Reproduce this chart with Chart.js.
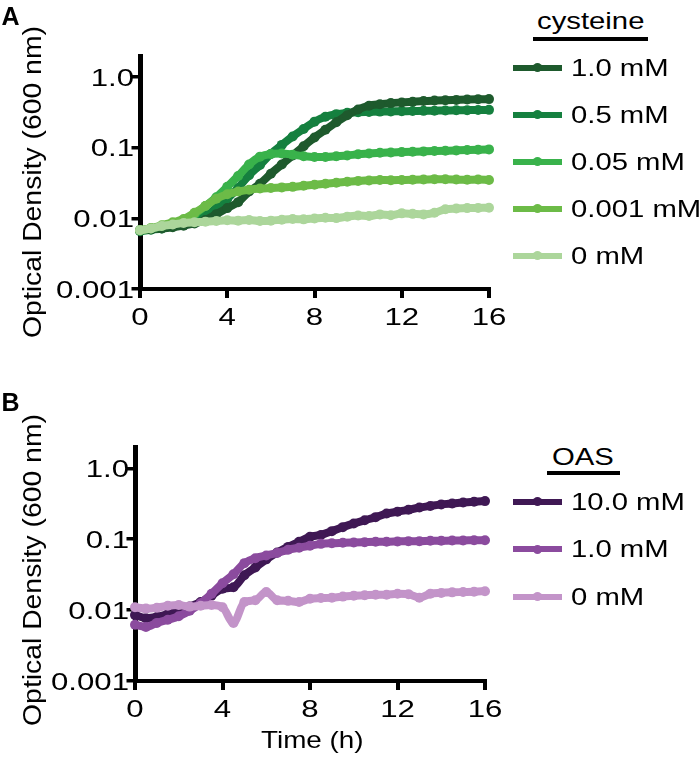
<!DOCTYPE html>
<html><head><meta charset="utf-8">
<script src="https://cdn.jsdelivr.net/npm/chart.js@4.4.0/dist/chart.umd.min.js"></script>
<style>
html,body{margin:0;padding:0;background:#fff;}
#wrap{position:relative;width:700px;height:763px;overflow:hidden;background:#fff;font-family:"Liberation Sans",Arial,sans-serif;color:#000;}
canvas{position:absolute;}
.t{position:absolute;white-space:nowrap;transform-origin:0 0;}
.rot{position:absolute;white-space:nowrap;}
.bar{position:absolute;background:#000;}
</style></head>
<body><div id="wrap">
<canvas id="cA" width="520" height="340" style="left:0;top:0;width:520px;height:340px"></canvas>
<canvas id="cB" width="520" height="340" style="left:0;top:391px;width:520px;height:340px"></canvas>
</div>
<script>
// ---------- data ----------
const timeH = [0,0.5,1,1.5,2,2.5,3,3.5,4,4.5,5,5.5,6,6.5,7,7.5,8,8.5,9,9.5,10,10.5,11,11.5,12,12.5,13,13.5,14,14.5,15,15.5,16];
const xTickValues = [0,4,8,12,16];
const xTickLabels = ['0','4','8','12','16'];
const yTickValues = [0.001,0.01,0.1,1];
const yTickLabels = ['0.001','0.01','0.1','1.0'];

// Panel A: cysteine
const cysteineLabels = ['1.0 mM','0.5 mM','0.05 mM','0.001 mM','0 mM'];
const cys_1_0 = [0.0068,0.007,0.0072,0.0075,0.0079,0.0085,0.0095,0.0115,0.014,0.017,0.024,0.031,0.043,0.058,0.078,0.105,0.14,0.18,0.23,0.29,0.35,0.395,0.415,0.43,0.44,0.45,0.46,0.467,0.473,0.478,0.483,0.487,0.49];
const cys_0_5 = [0.0066,0.0069,0.0072,0.0077,0.0084,0.0095,0.011,0.014,0.019,0.027,0.041,0.057,0.082,0.11,0.145,0.185,0.235,0.275,0.3,0.313,0.32,0.323,0.326,0.328,0.33,0.332,0.334,0.336,0.338,0.34,0.342,0.344,0.345];
const cys_0_05 = [0.0068,0.0072,0.0078,0.0085,0.0095,0.0115,0.015,0.02,0.028,0.04,0.058,0.075,0.082,0.083,0.08,0.076,0.074,0.074,0.076,0.078,0.081,0.083,0.085,0.086,0.087,0.088,0.089,0.09,0.091,0.092,0.093,0.094,0.095];
const cys_0_001 = [0.0068,0.0073,0.008,0.0088,0.0098,0.012,0.015,0.019,0.022,0.024,0.0255,0.0265,0.027,0.0275,0.028,0.029,0.03,0.031,0.032,0.033,0.034,0.0345,0.035,0.0348,0.035,0.0352,0.0355,0.036,0.0358,0.0355,0.0352,0.0355,0.035];
const cys_0 = [0.0068,0.0072,0.0078,0.0082,0.0086,0.0088,0.009,0.0092,0.0094,0.0093,0.0095,0.0092,0.0093,0.0096,0.0098,0.0097,0.01,0.0102,0.0101,0.0106,0.011,0.0108,0.0114,0.0111,0.0118,0.0116,0.0114,0.012,0.0135,0.0138,0.014,0.0141,0.0142];

// Panel B: OAS
const oasLabels = ['10.0 mM','1.0 mM','0 mM'];
const oas_10_0 = [0.0085,0.0077,0.008,0.0088,0.0098,0.0112,0.013,0.016,0.02,0.021,0.031,0.04,0.052,0.065,0.078,0.092,0.108,0.115,0.13,0.148,0.167,0.185,0.205,0.23,0.245,0.26,0.28,0.295,0.31,0.32,0.33,0.338,0.345];
const oas_1_0 = [0.0062,0.0058,0.0066,0.0073,0.0082,0.0098,0.0125,0.017,0.024,0.032,0.046,0.054,0.059,0.064,0.071,0.076,0.081,0.086,0.088,0.089,0.09,0.091,0.092,0.092,0.093,0.094,0.094,0.095,0.095,0.096,0.096,0.097,0.097];
const oas_0 = [0.011,0.0105,0.0108,0.0115,0.0118,0.0112,0.0115,0.0118,0.011,0.0066,0.013,0.0138,0.018,0.0138,0.0135,0.013,0.0145,0.0148,0.015,0.0155,0.016,0.0162,0.0165,0.0165,0.017,0.0168,0.015,0.017,0.0175,0.0178,0.018,0.0182,0.0185];

// ---------- styles ----------
const cysColors = ['#1e5a2d','#15803f','#39b24b','#6cbb47','#acd69b'];
const cysOrder = [3,4,2,1,0];
const oasColors = ['#3f1854','#8b4b9e','#c394c9'];
const oasOrder = [2,1,0];
const FONT = '"Liberation Sans", Arial, sans-serif';
const TICK_SX = 1.3;

const wrap = document.getElementById('wrap');

function addText(str, left, baseline, size, sx, bold) {
  const d = document.createElement('div');
  d.className = 't';
  d.textContent = str;
  d.style.fontSize = size + 'px';
  d.style.lineHeight = size + 'px';
  if (bold) d.style.fontWeight = 'bold';
  d.style.left = left + 'px';
  d.style.top = (baseline - size * 0.8465) + 'px';
  d.style.transform = 'scaleX(' + sx + ')';
  wrap.appendChild(d);
}
function addRotText(str, xc, yc, size, sx) {
  const d = document.createElement('div');
  d.className = 'rot';
  d.textContent = str;
  d.style.fontSize = size + 'px';
  d.style.lineHeight = size + 'px';
  d.style.left = xc + 'px';
  d.style.top = yc + 'px';
  d.style.transform = 'translate(-50%,-50%) rotate(-90deg) scaleX(' + sx + ')';
  wrap.appendChild(d);
}
function addBar(left, top, w, h, color) {
  const d = document.createElement('div');
  d.className = 'bar';
  d.style.left = left + 'px'; d.style.top = top + 'px';
  d.style.width = w + 'px'; d.style.height = h + 'px';
  if (color) d.style.background = color;
  wrap.appendChild(d);
}
function addDot(cx, cy, r, color) {
  const d = document.createElement('div');
  d.className = 'bar';
  d.style.left = (cx - r) + 'px'; d.style.top = (cy - r) + 'px';
  d.style.width = (2 * r) + 'px'; d.style.height = (2 * r) + 'px';
  d.style.borderRadius = '50%';
  d.style.background = color;
  wrap.appendChild(d);
}
function legend(title, titleLeft, titleBaseline, ulLeft, ulTop, ulW, ulH, labels, colors, y0, dy) {
  addText(title, titleLeft, titleBaseline, 24, 1.22, false);
  addBar(ulLeft, ulTop, ulW, ulH);
  labels.forEach((lab, i) => {
    const y = y0 + i * dy;
    addBar(513.3, y - 3, 48.4, 6, colors[i]);
    addDot(537.5, y, 4.6, colors[i]);
    addText(lab, 571, y + 8.6, 24, 1.22, false);
  });
}

const tickPlugin = {
  id: 'stretchTicks',
  afterDraw(chart) {
    const ctx = chart.ctx;
    const xs = chart.scales.x, ys = chart.scales.y;
    ctx.save();
    ctx.fillStyle = '#000';
    ctx.font = '24px ' + FONT;
    ctx.textBaseline = 'alphabetic';
    ctx.textAlign = 'right';
    yTickValues.forEach((v, i) => {
      const py = ys.getPixelForValue(v);
      ctx.save();
      ctx.translate(chart.chartArea.left - 6, py + 8.6);
      ctx.scale(TICK_SX, 1);
      ctx.fillText(yTickLabels[i], 0, 0);
      ctx.restore();
    });
    ctx.textAlign = 'center';
    xTickValues.forEach((v, i) => {
      const px = xs.getPixelForValue(v);
      ctx.save();
      ctx.translate(px, chart.chartArea.bottom + 35.5);
      ctx.scale(TICK_SX, 1);
      ctx.fillText(xTickLabels[i], 0, 0);
      ctx.restore();
    });
    ctx.restore();
  }
};

function makeChart(id, seriesList, labels, colors, orders, yWidth, xHeight, padRight) {
  const datasets = seriesList.map((vals, k) => ({
    label: labels[k],
    data: timeH.map((t, i) => ({ x: t, y: vals[i] })),
    borderColor: colors[k],
    backgroundColor: colors[k],
    pointBackgroundColor: colors[k],
    borderWidth: 8,
    pointRadius: 5,
    pointBorderWidth: 0,
    pointHoverRadius: 5,
    cubicInterpolationMode: 'monotone',
    clip: false,
    order: orders[k]
  }));
  return new Chart(document.getElementById(id), {
    type: 'line',
    data: { datasets },
    options: {
      responsive: false,
      animation: false,
      devicePixelRatio: 1,
      events: [],
      layout: { padding: { top: 56, right: padRight, bottom: 0, left: 0 } },
      plugins: { legend: { display: false }, tooltip: { enabled: false } },
      scales: {
        x: {
          type: 'linear', min: 0, max: 16,
          afterBuildTicks: s => { s.ticks = xTickValues.map(v => ({ value: v })); },
          afterFit: s => { s.height = xHeight; },
          ticks: { display: false },
          grid: { display: true, drawOnChartArea: false, drawTicks: true, tickLength: 9, tickWidth: 4, tickColor: '#000', color: '#000', lineWidth: 4 },
          border: { display: true, width: 4, color: '#000' }
        },
        y: {
          type: 'logarithmic', min: 0.001, max: 2,
          afterBuildTicks: s => { s.ticks = yTickValues.map(v => ({ value: v })); },
          afterFit: s => { s.width = yWidth; },
          ticks: { display: false },
          grid: { display: true, drawOnChartArea: false, drawTicks: true, tickLength: 8.5, tickWidth: 3.5, tickColor: '#000', color: '#000', lineWidth: 3.5 },
          border: { display: true, width: 5, color: '#000' }
        }
      }
    },
    plugins: [tickPlugin]
  });
}

makeChart('cA', [cys_1_0, cys_0_5, cys_0_05, cys_0_001, cys_0], cysteineLabels, cysColors, cysOrder, 140, 51, 31);
makeChart('cB', [oas_10_0, oas_1_0, oas_0], oasLabels, oasColors, oasOrder, 135, 50, 35);

// panel letters
addText('A', 1.5, 25, 25, 1, true);
addText('B', 1.5, 411, 25, 1, true);
// axis titles
addRotText('Optical Density (600 nm)', 32, 181.5, 26, 1.09);
addRotText('Optical Density (600 nm)', 32, 569.5, 26, 1.09);
addText('Time (h)', 261, 748, 24, 1.16, false);
// legends
legend('cysteine', 537, 29.3, 532.7, 37.3, 115.6, 3.6, cysteineLabels, cysColors, 67.7, 47);
legend('OAS', 551.5, 465, 546.7, 471, 73.3, 4, oasLabels, oasColors, 501.7, 47.5);
</script>
</body></html>
